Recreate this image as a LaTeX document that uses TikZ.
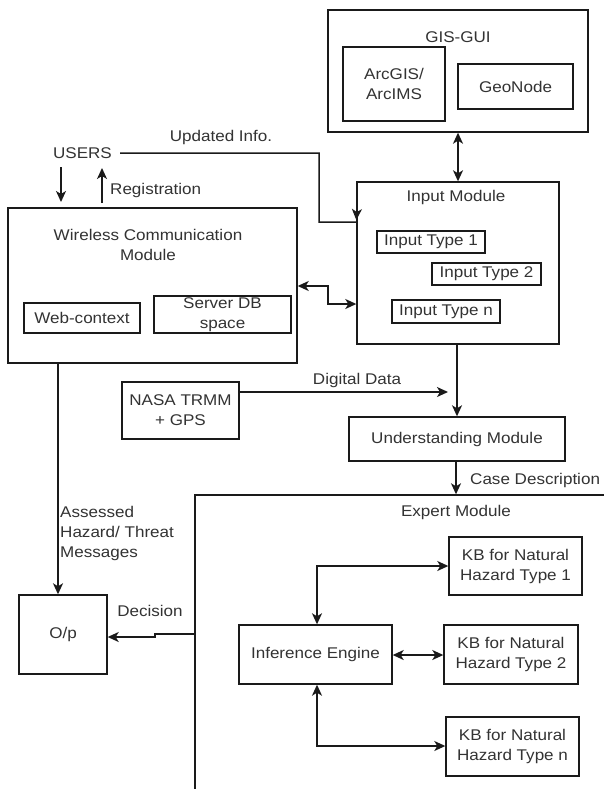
\documentclass[tikz,border=0pt]{standalone}
\usepackage{fontspec}
\setmainfont{Liberation Sans}[FakeStretch=1.1]
\usetikzlibrary{arrows.meta}
\definecolor{txt}{HTML}{333333}
\definecolor{ln}{HTML}{1A1A1A}
\newcommand{\rbox}[6]{%
  \node[box, minimum width={#4-#2}, minimum height={#5-#3}] (#1) at ({(#2+#4)/2},{(#3+#5)/2}) {#6};}
\begin{document}
\begin{tikzpicture}[x=1pt,y=-1pt,
  every node/.style={font=\fontsize{15.5}{20}\selectfont, text=txt, inner sep=0pt, align=center},
  box/.style={draw=ln, line width=1.4pt},
  lbl/.style={},
  tip/.tip={Stealth[length=11pt,width=10pt,inset=3pt]},
  arr/.style={draw=ln, line width=1.5pt, -tip},
  biarr/.style={draw=ln, line width=1.5pt, tip-tip}]
\useasboundingbox (0,0) rectangle (604,789);
\clip (0,0) rectangle (604,789);
\fill[white] (0,0) rectangle (604,789);

% boxes
\rbox{gis}{328}{10}{588}{132}{}
\rbox{arcgis}{343}{47}{445}{121}{ArcGIS/\\ArcIMS}
\rbox{geonode}{458}{64}{573}{109}{GeoNode}
\rbox{input}{357}{182}{559}{344}{}
\rbox{it1}{377}{231}{485}{253}{Input Type 1}
\rbox{it2}{432}{263}{541}{285}{Input Type 2}
\rbox{itn}{392}{300}{500}{323}{Input Type n}
\rbox{wireless}{8}{208}{297}{363}{}
\rbox{web}{24}{303}{140}{333}{Web-context}
\rbox{server}{154}{296}{291}{333}{Server DB\\space}
\rbox{nasa}{122}{382}{239}{439}{NASA TRMM\\+ GPS}
\rbox{understanding}{349}{417}{565}{461}{Understanding Module}
\rbox{expert}{195}{495}{640}{820}{}
\rbox{kb1}{449}{537}{582}{595}{KB for Natural\\Hazard Type 1}
\rbox{kb2}{444}{625}{578}{684}{KB for Natural\\Hazard Type 2}
\rbox{kbn}{446}{717}{579}{776}{KB for Natural\\Hazard Type n}
\rbox{inference}{239}{625}{392}{684}{Inference Engine}
\rbox{op}{19}{595}{107}{674}{O/p}

% labels
\node[lbl] (gislbl) at (458,37) {GIS-GUI};
\node[lbl] (inputlbl) at (456,197) {Input Module};
\node[lbl] (wirelesslbl) at (148,245) {Wireless Communication\\Module};
\node[lbl] (expertlbl) at (456,512) {Expert Module};
\node[lbl] (users) at (82.5,153) {USERS};
\node[lbl] (updlbl) at (221,137) {Updated Info.};
\node[lbl, anchor=west] (reglbl) at (110,190) {Registration};
\node[lbl, anchor=west] (caselbl) at (470,480) {Case Description};
\node[lbl] (ddlbl) at (357,380) {Digital Data};
\node[lbl, anchor=west, align=left] (asslbl) at (60,533) {Assessed\\Hazard/ Threat\\Messages};
\node[lbl] (declbl) at (150,611) {Decision};

% coordinates
\coordinate (u1) at (319,153);
\coordinate (u2) at (319,222);
\coordinate (u3) at (357,207);
\coordinate (d1) at (61,167);
\coordinate (d2) at (61,202);
\coordinate (r1) at (102,203);
\coordinate (r2) at (102,168);
\coordinate (b1) at (328,286);
\coordinate (b2) at (328,304);
\coordinate (ux) at (457,0);
\coordinate (cx) at (456,0);
\coordinate (dd) at (448,392);
\coordinate (ox) at (58,0);
\coordinate (e1) at (155,634);
\coordinate (e2) at (155,637);
\coordinate (ix) at (317,0);
\coordinate (k1) at (0,566);
\coordinate (k2) at (0,655);
\coordinate (k3) at (0,746);

% connectors
\draw[biarr] (gis.south) -- (input.north);
\draw[arr] ([xshift=8pt]users.east) -- (u1) -- (u2) -- (u2 -| input.west) (u3) -- ([yshift=2pt]u2 -| input.west);
\draw[arr] (d1) -- (d2);
\draw[arr] (r1) -- (r2);
\draw[biarr] (wireless.east |- b1) -- (b1) -- (b2) -- (b2 -| input.west);
\draw[arr] (input.south -| ux) -- (understanding.north -| ux);
\draw[arr] (nasa.east |- dd) -- (dd);
\draw[arr] (understanding.south -| cx) -- (expert.north -| cx);
\draw[arr] (wireless.south -| ox) -- (op.north -| ox);
\draw[arr] (expert.west |- e1) -- (e1) -- (e2) -- (e2 -| op.east);
\draw[biarr] (inference.north -| ix) -- (ix |- k1) -- (kb1.west |- k1);
\draw[biarr] (inference.east |- k2) -- (kb2.west |- k2);
\draw[biarr] (inference.south -| ix) -- (ix |- k3) -- (kbn.west |- k3);
\end{tikzpicture}
\end{document}
